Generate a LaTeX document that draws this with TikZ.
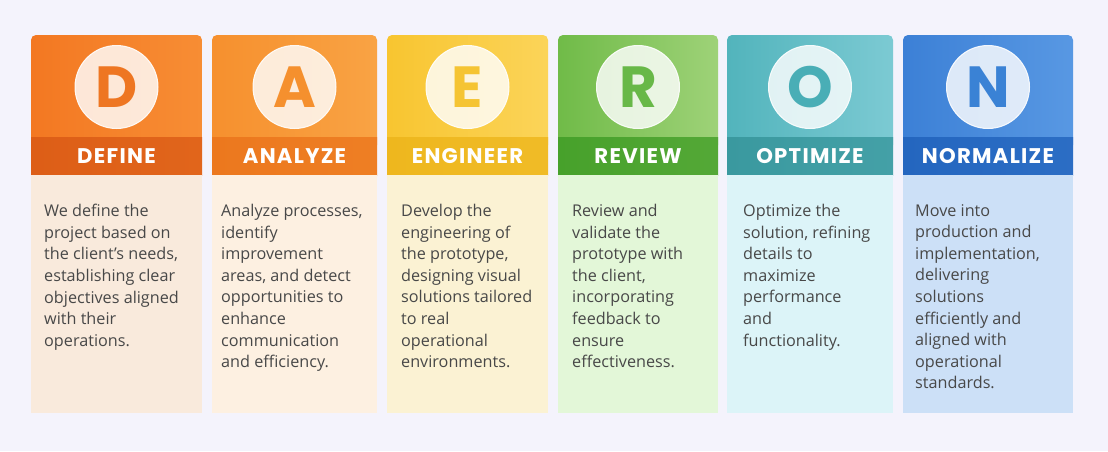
\documentclass[tikz,border=0pt]{standalone}
\usepackage{fontspec}
\setmainfont{Open Sans}
\newfontfamily\ttlfont[LetterSpace=6]{Poppins}
\newfontfamily\letfont{Poppins}
\usetikzlibrary{calc}
\definecolor{bg}{HTML}{F4F3FC}
\definecolor{bodytext}{HTML}{484848}
% column colours: a header left, b header right, c band, d body, e letter
\definecolor{defa}{HTML}{F37822}\definecolor{defb}{HTML}{F78D34}\definecolor{defc}{HTML}{DD5E17}\definecolor{defd}{HTML}{F9EADC}\definecolor{defe}{HTML}{EE7622}
\definecolor{anaa}{HTML}{F6902E}\definecolor{anab}{HTML}{F9A344}\definecolor{anac}{HTML}{EC781E}\definecolor{anad}{HTML}{FDF0E1}\definecolor{anae}{HTML}{F5902E}
\definecolor{enga}{HTML}{F8C530}\definecolor{engb}{HTML}{FBD459}\definecolor{engc}{HTML}{EEB71E}\definecolor{engd}{HTML}{FBF2D3}\definecolor{enge}{HTML}{F5C433}
\definecolor{reva}{HTML}{70BB48}\definecolor{revb}{HTML}{9ED278}\definecolor{revc}{HTML}{47A12B}\definecolor{revd}{HTML}{E3F7D8}\definecolor{reve}{HTML}{68B848}
\definecolor{opta}{HTML}{52B4BC}\definecolor{optb}{HTML}{7CCAD3}\definecolor{optc}{HTML}{3A999F}\definecolor{optd}{HTML}{DCF4F8}\definecolor{opte}{HTML}{49AEB6}
\definecolor{nora}{HTML}{3C80D6}\definecolor{norb}{HTML}{5898E3}\definecolor{norc}{HTML}{2466BF}\definecolor{nord}{HTML}{CCE0F7}\definecolor{nore}{HTML}{3A82D5}
\tikzset{
  lettercircle/.style={circle, minimum size=83pt, inner sep=0pt, fill=white, fill opacity=0.82, draw=white, draw opacity=0.9, line width=1pt},
  letterlabel/.style={inner sep=0pt, font=\letfont\bfseries\fontsize{58}{58}\selectfont},
  titlelabel/.style={inner sep=0pt, text=white, font=\ttlfont\bfseries\fontsize{21.2}{22}\selectfont},
  bodylabel/.style={inner sep=0pt, anchor=north west, align=left, text=bodytext, font=\fontsize{16.2}{21.6}\selectfont},
}
% #1 name, #2 x0, #3 x1, #4 letter, #5 title, #6 colour prefix, #7 text x, #8 text
\newcommand{\dphase}[8]{%
  \shade[left color=#6a, right color=#6b, rounded corners=5pt] (#2,35) rectangle (#3,150);
  \shade[left color=#6c, right color=#6c!85!#6b] (#2,137) rectangle (#3,175);
  \fill[#6d] (#2,175) rectangle (#3,413);
  \node[lettercircle] (#1c) at ({(#2+#3)/2},87) {};
  \node[letterlabel, text=#6e] (#1l) at (#1c.center) {#4};
  \node[titlelabel] (#1t) at ({(#2+#3)/2},156) {#5};
  \node[bodylabel] (#1b) at (#7,204) {#8};
}
\begin{document}
\begin{tikzpicture}[x=1pt,y=-1pt]
\fill[bg] (0,0) rectangle (1108,451);
\useasboundingbox (0,0) rectangle (1108,451);
\dphase{p1}{31}{202}{D}{DEFINE}{def}{44}{We define the\\project based on\\the client’s needs,\\establishing clear\\objectives aligned\\with their\\operations.}
\dphase{p2}{212}{377}{A}{ANALYZE}{ana}{221}{Analyze processes,\\identify\\improvement\\areas, and detect\\opportunities to\\enhance\\communication\\and efficiency.}
\dphase{p3}{387}{548}{E}{ENGINEER}{eng}{401}{Develop the\\engineering of\\the prototype,\\designing visual\\solutions tailored\\to real\\operational\\environments.}
\dphase{p4}{558}{718}{R}{REVIEW}{rev}{572}{Review and\\validate the\\prototype with\\the client,\\incorporating\\feedback to\\ensure\\effectiveness.}
\dphase{p5}{727}{893}{O}{OPTIMIZE}{opt}{743}{Optimize the\\solution, refining\\details to\\maximize\\performance\\and\\functionality.}
\dphase{p6}{903}{1073}{N}{NORMALIZE}{nor}{915}{Move into\\production and\\implementation,\\delivering\\solutions\\efficiently and\\aligned with\\operational\\standards.}
\end{tikzpicture}
\end{document}
